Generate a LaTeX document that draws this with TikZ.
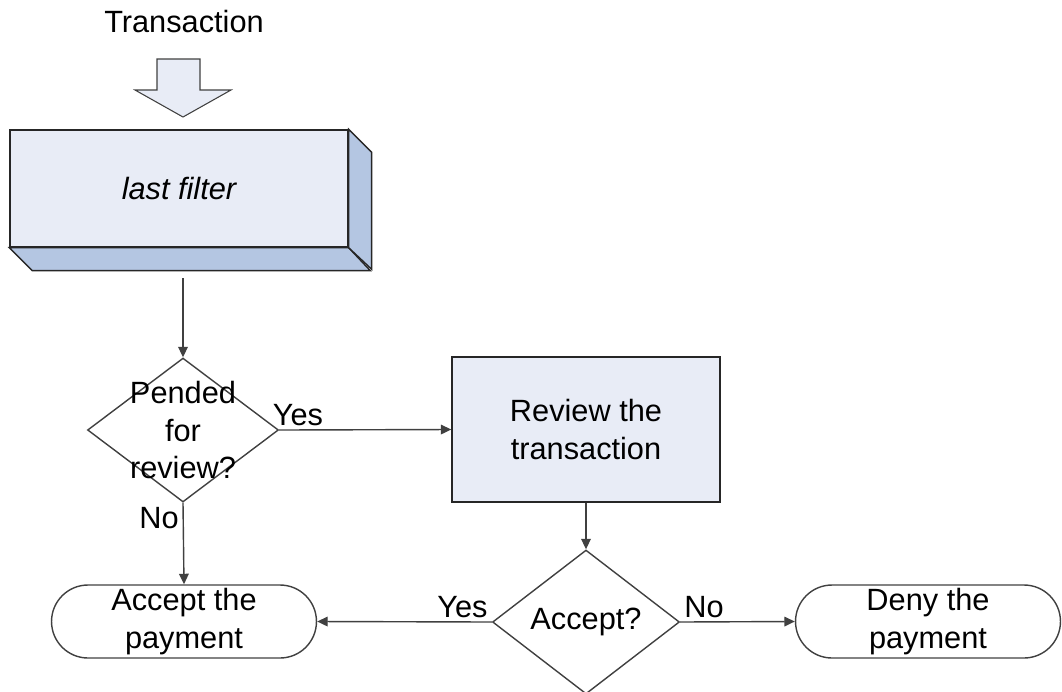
\documentclass[tikz,border=0pt]{standalone}
\usepackage{fontspec}
\setmainfont{Liberation Sans}
\usetikzlibrary{shapes.geometric,arrows.meta,positioning}
\definecolor{boxfill}{RGB}{232,236,246}
\definecolor{sidefill}{RGB}{180,198,226}
\definecolor{edge}{RGB}{64,64,64}

\begin{document}
\begin{tikzpicture}[x=0.02cm,y=-0.02cm,
  every node/.style={font=\fontsize{17.5}{21.5}\selectfont},
  arr/.style={draw=edge,line width=0.8pt,-{Triangle[length=6pt,width=5.5pt]}},
  decision/.style={diamond,draw=edge,line width=0.8pt,minimum width=3.82cm,minimum height=2.88cm,inner sep=0pt},
  terminal/.style={draw=edge,line width=0.8pt,rounded corners=0.73cm,minimum width=5.3cm,minimum height=1.46cm,align=center,inner sep=0pt},
  lbl/.style={inner sep=2pt}]
\useasboundingbox (0,0) rectangle (1062,691);

% input
\node (trans) at (184,22) {Transaction};
\draw[draw=edge,fill=boxfill,line width=0.6pt] (157,59) -- (200,59) -- (200,90) -- (231,90) -- (183,117) -- (135,90) -- (157,90) -- cycle;

% filter block
\node[draw=black!85,fill=boxfill,line width=0.8pt,minimum width=6.76cm,minimum height=2.34cm,font=\fontsize{17.5}{21.5}\selectfont\itshape] (filter) at (179,188.5) {last filter};
\draw[draw=black!85,fill=sidefill,line width=0.8pt] (filter.south west) -- ++(23,23) -- ++(338,0) -- (filter.south east) -- cycle;
\draw[draw=black!85,fill=sidefill,line width=0.8pt] (filter.north east) -- ++(23,23) -- ++(0,117) -- (filter.south east) -- cycle;
\coordinate (fout) at (183,278);

% decisions
\node[decision] (pend) at (183,430) {};
\node[align=center] (pendtxt) at (pend.center) {Pended\\for\\review?};
\node[draw=black!85,fill=boxfill,line width=0.8pt,minimum width=5.36cm,minimum height=2.9cm,align=center] (review) at (586,429.5) {Review the\\transaction};
\node[decision,minimum width=3.74cm] (acc) at (586,622) {Accept?};

% outcomes
\node[terminal] (accept) at (184,621.5) {Accept the\\payment};
\node[terminal] (deny) at (928,621.5) {Deny the\\payment};

\draw[arr] (fout) -- (pend.north);
\draw[arr] (pend.east) -- node[pos=0,above right,lbl,xshift=-6pt]{Yes} (review.west);
\draw[arr] (review.south) -- (acc.north);
\draw[arr] (pend.south) -- node[pos=0,below left,lbl]{No} (accept.north);
\draw[arr] (acc.west) -- node[pos=0,above left,lbl]{Yes} (accept.east);
\draw[arr] (acc.east) -- node[pos=0,above right,lbl]{No} (deny.west);
\end{tikzpicture}
\end{document}
